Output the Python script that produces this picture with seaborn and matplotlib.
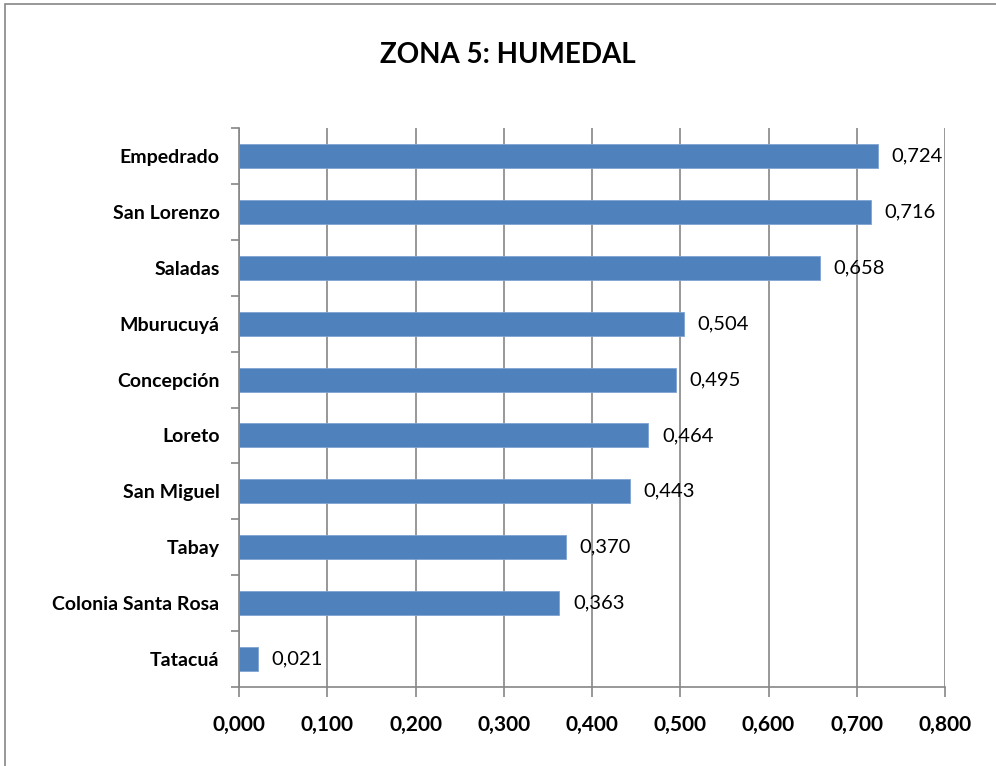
import matplotlib
matplotlib.use('Agg')
import numpy as np
import pandas as pd
import matplotlib.pyplot as plt
import seaborn as sns
from matplotlib.patches import Rectangle
from matplotlib.ticker import FuncFormatter, MultipleLocator

# datos de la zona
municipios = ['Empedrado', 'San Lorenzo', 'Saladas', 'Mburucuyá', 'Concepción',
              'Loreto', 'San Miguel', 'Tabay', 'Colonia Santa Rosa', 'Tatacuá']
valores = [0.724, 0.716, 0.658, 0.504, 0.495, 0.464, 0.443, 0.370, 0.363, 0.021]

df = pd.DataFrame({'municipio': municipios, 'valor': valores})

sns.set_theme(style='white')
plt.rcParams['font.family'] = ['Lato', 'DejaVu Sans']
plt.rcParams['text.color'] = 'black'
plt.rcParams['xtick.labelcolor'] = 'black'
plt.rcParams['ytick.labelcolor'] = 'black'

fig = plt.figure(figsize=(9.96, 7.66), dpi=100)
ax = fig.add_axes([0.24, 0.1031, 0.7088, 0.7298])

sns.barplot(data=df, x='valor', y='municipio', orient='h', color='#4F81BD',
            saturation=1, width=0.43, ax=ax, edgecolor='#7FA3D3', linewidth=0.6)

ax.set_xlim(0, 0.8)
ax.set_ylim(len(municipios) - 0.5, -0.5)
ax.xaxis.set_major_locator(MultipleLocator(0.1))
ax.xaxis.set_major_formatter(FuncFormatter(lambda v, p: f'{v:.3f}'.replace('.', ',')))

# rejilla vertical estilo excel
ax.grid(axis='x', color='#868686', linewidth=1.2)
ax.set_axisbelow(True)
for s in ['top', 'right']:
    ax.spines[s].set_visible(False)
for s in ['left', 'bottom']:
    ax.spines[s].set_color('#868686')
    ax.spines[s].set_linewidth(1.2)

ax.set_yticks(np.arange(len(municipios)))
ax.set_yticklabels(municipios, fontsize=14, fontweight='bold', color='black')
ax.set_yticks(np.arange(len(municipios) + 1) - 0.5, minor=True)
ax.tick_params(axis='y', which='major', length=0, pad=14)
ax.tick_params(axis='y', which='minor', length=6, color='#868686', width=1.2, left=True)
ax.tick_params(axis='x', length=7, color='#868686', width=1.2, bottom=True, pad=13)
for t in ax.get_xticklabels():
    t.set_fontsize(15)
    t.set_fontweight('bold')
    t.set_color('black')
ax.set_xlabel('')
ax.set_ylabel('')

for i, v in enumerate(valores):
    ax.annotate(f'{v:.3f}'.replace('.', ','), xy=(v, i), xytext=(10, 0),
                textcoords='offset points', va='center', ha='left', fontsize=14.5,
                color='black')

fig.text(0.51, 0.928, 'ZONA 5: HUMEDAL', ha='center', va='center',
         fontsize=20, fontweight='bold', color='black')

# borde del area del grafico
fig.patches.append(Rectangle((0.005, -0.05), 1.2, 1.045, transform=fig.transFigure,
                             fill=False, edgecolor='#868686', linewidth=1.2))

fig.savefig('out.png', dpi=100)
